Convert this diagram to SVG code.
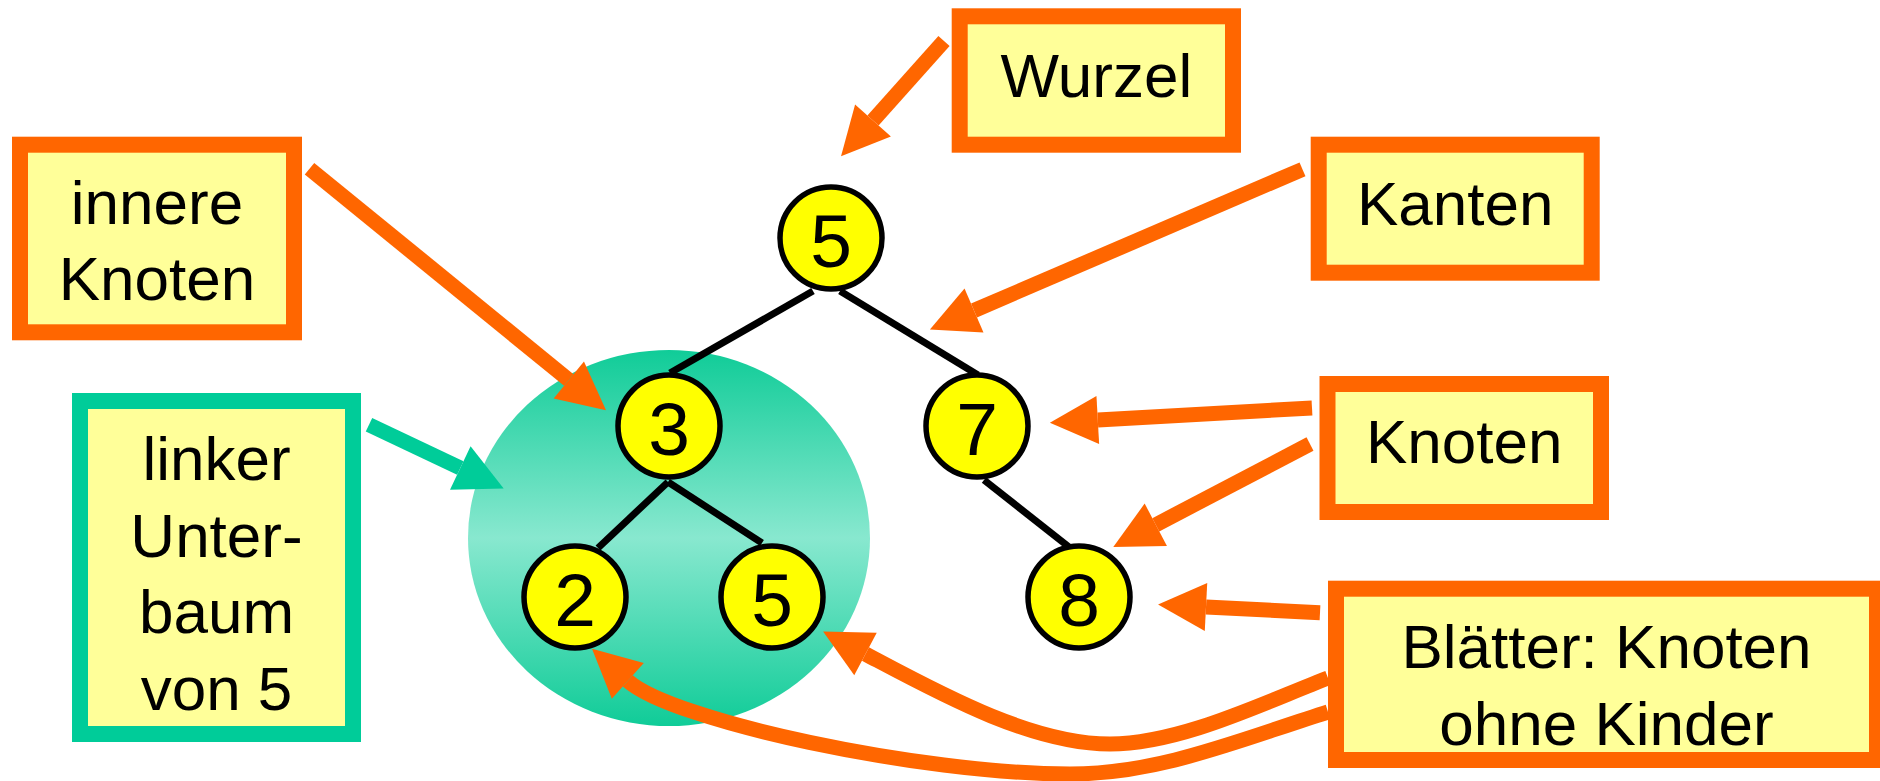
<svg xmlns="http://www.w3.org/2000/svg" width="1880" height="781" viewBox="0 0 1880 781">
<defs>
<style>
.box{fill:#FFFF99;stroke:#FF6600;stroke-width:16}
.gbox{fill:#FFFF99;stroke:#00CC99;stroke-width:16}
.lbl{font-family:"Liberation Sans",Arial,sans-serif;font-size:62px;fill:#000;text-anchor:middle}
.node circle{fill:#FFFF00;stroke:#000;stroke-width:5.5}
.node text{font-family:"Liberation Sans",Arial,sans-serif;font-size:75px;fill:#000;text-anchor:middle}
.edge{stroke:#000;stroke-width:7;fill:none}
.arr{stroke:#FF6600;stroke-width:15;fill:none;marker-end:url(#oh)}
.garr{stroke:#00CC99;stroke-width:15;fill:none;marker-end:url(#gh)}
</style>
<marker id="oh" markerUnits="userSpaceOnUse" viewBox="0 -24 48 48" refX="0" refY="0" markerWidth="48" markerHeight="48" orient="auto" overflow="visible">
<path d="M0,-24 L48,0 L0,24 Z" fill="#FF6600"/>
</marker>
<marker id="gh" markerUnits="userSpaceOnUse" viewBox="0 -24 48 48" refX="0" refY="0" markerWidth="48" markerHeight="48" orient="auto" overflow="visible">
<path d="M0,-24 L48,0 L0,24 Z" fill="#00CC99"/>
</marker>
<linearGradient id="sub" x1="0" y1="0" x2="0" y2="1">
<stop offset="0" stop-color="#10CC98"/>
<stop offset="0.5" stop-color="#88E8CF"/>
<stop offset="1" stop-color="#10CC98"/>
</linearGradient>
</defs>

<g id="subtree">
<ellipse cx="669" cy="538" rx="201" ry="188" fill="url(#sub)"/>
</g>

<g id="edges">
<line class="edge" x1="813" y1="291" x2="670" y2="373"/>
<line class="edge" x1="840" y1="291" x2="978" y2="375"/>
<line class="edge" x1="668" y1="482" x2="598" y2="548"/>
<line class="edge" x1="668" y1="482" x2="762" y2="543"/>
<line class="edge" x1="984" y1="480" x2="1069" y2="547"/>
</g>

<g id="node-root" class="node"><circle cx="831" cy="238" r="51"/><text x="831" y="267">5</text></g>
<g id="node-3" class="node"><circle cx="669" cy="426" r="51"/><text x="669" y="455">3</text></g>
<g id="node-7" class="node"><circle cx="977" cy="426" r="51"/><text x="977" y="455">7</text></g>
<g id="node-2" class="node"><circle cx="575" cy="597" r="51"/><text x="575" y="626">2</text></g>
<g id="node-5b" class="node"><circle cx="772" cy="597" r="51"/><text x="772" y="626">5</text></g>
<g id="node-8" class="node"><circle cx="1079" cy="597" r="51"/><text x="1079" y="626">8</text></g>

<g id="connectors">
<line class="arr" x1="944" y1="41" x2="873" y2="120.5"/>
<line class="arr" x1="309.5" y1="168.7" x2="568.8" y2="380"/>
<line class="arr" x1="1302.5" y1="169.3" x2="974" y2="310.5"/>
<line class="arr" x1="1312" y1="408" x2="1097.8" y2="420"/>
<line class="arr" x1="1310" y1="444" x2="1155.8" y2="524.8"/>
<line class="arr" x1="1320" y1="612.8" x2="1206" y2="607"/>
<path class="arr" d="M1328,678 C1263,703 1180,744 1110,744 C1030,744 936,691.4 865.5,654"/>
<path class="arr" d="M1328,712 C1242,739 1160,774 1070,774 C920,774 672.6,720.8 627.8,680.8"/>
<line class="garr" x1="369" y1="424.7" x2="460.3" y2="468"/>
</g>

<g id="box-innere">
<rect class="box" x="20" y="144.7" width="274" height="187.6"/>
<text class="lbl" x="157" y="224">innere</text>
<text class="lbl" x="157" y="300">Knoten</text>
</g>
<g id="box-linker">
<rect class="gbox" x="80" y="401" width="273" height="333"/>
<text class="lbl" x="216.5" y="480">linker</text>
<text class="lbl" x="216.5" y="557">Unter-</text>
<text class="lbl" x="216.5" y="633">baum</text>
<text class="lbl" x="216.5" y="710">von 5</text>
</g>
<g id="box-wurzel">
<rect class="box" x="959.7" y="16.3" width="273.3" height="128.4"/>
<text class="lbl" x="1096.3" y="97">Wurzel</text>
</g>
<g id="box-kanten">
<rect class="box" x="1318.7" y="144.7" width="273" height="128"/>
<text class="lbl" x="1455.2" y="225">Kanten</text>
</g>
<g id="box-knoten">
<rect class="box" x="1327.5" y="384" width="273.5" height="128"/>
<text class="lbl" x="1464.2" y="463">Knoten</text>
</g>
<g id="box-blaetter">
<rect class="box" x="1336" y="588.7" width="541" height="171.3"/>
<text class="lbl" x="1606.5" y="668">Blätter: Knoten</text>
<text class="lbl" x="1606.5" y="745">ohne Kinder</text>
</g>
</svg>
